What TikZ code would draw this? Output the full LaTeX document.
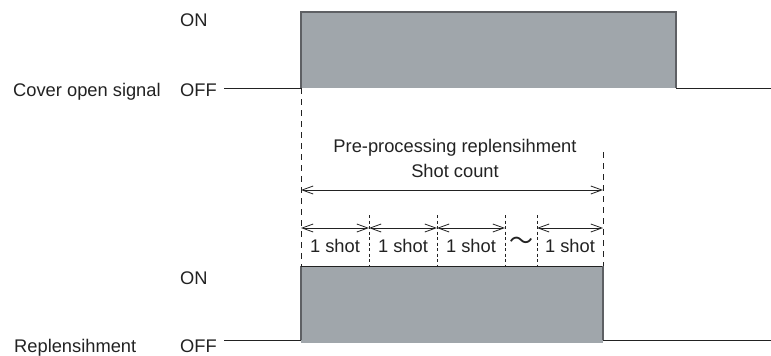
\documentclass[tikz,border=0pt]{standalone}
\usepackage{fontspec}
\setmainfont{Liberation Sans}
\newfontfamily\cjkjp{Noto Sans CJK JP}
\usetikzlibrary{arrows.meta}
\definecolor{sigfill}{HTML}{A0A6AB}
\definecolor{sigedge}{HTML}{5E6064}
\definecolor{ink}{HTML}{222222}
\tikzset{
  lbl/.style={font=\fontsize{18.3}{20}\selectfont, text=ink, inner sep=0pt},
  sigline/.style={draw=ink, line width=0.9pt},
  boxedge/.style={draw=sigedge, line width=1.3pt},
  bigdash/.style={draw=ink, line width=0.8pt, dash pattern=on 6pt off 5pt},
  smalldash/.style={draw=ink, line width=0.7pt, dash pattern=on 3pt off 2.5pt},
  dimarrow/.style={draw=ink, line width=0.8pt,
    {Straight Barb[length=11pt,width=8pt]}-{Straight Barb[length=11pt,width=8pt]}},
}
\begin{document}
\begin{tikzpicture}[x=1pt,y=-1pt]
\useasboundingbox (0,0) rectangle (771,356);

% ---------- top signal ----------
\coordinate (t0) at (224,88);
\coordinate (t1) at (301,88);
\coordinate (t2) at (301,12);
\coordinate (t3) at (676,12);
\coordinate (t4) at (676,88);
\coordinate (t5) at (771,88);
\fill[sigfill] (t2) rectangle (t4);
\draw[sigline] (t0) -- (t1);
\draw[boxedge] (t1) -- (t2) -- (t3) -- (t4);
\draw[sigline] (t4) -- (t5);

% ---------- bottom signal ----------
\coordinate (b0) at (224,340);
\coordinate (b1) at (301,340);
\coordinate (b2) at (301,266);
\coordinate (b3) at (603,266);
\coordinate (b4) at (603,340);
\coordinate (b5) at (771,340);
\fill[sigfill] (301,266) rectangle (603,343);
\draw[sigline] (b0) -- (b1);
\draw[boxedge] (b1) -- (b2);
\draw[sigline] (b2) -- (b3);
\draw[boxedge] (b3) -- (b4);
\draw[sigline] (b4) -- (b5);

% ---------- labels ----------
\node[lbl, anchor=base west] (on1) at (180,27) {ON};
\node[lbl, anchor=base west] (off1) at (180,96) {OFF};
\node[lbl, anchor=base west] (cov) at (13,96) {Cover open signal};
\node[lbl, anchor=base west] (on2) at (180,284) {ON};
\node[lbl, anchor=base west] (off2) at (180,352) {OFF};
\node[lbl, anchor=base west] (rep) at (14,352) {Replensihment};

% ---------- dashed guides ----------
\coordinate (r0) at (603,152);
\draw[bigdash] (t1) -- (b2);
\draw[bigdash] (r0) -- (b3);

\foreach \x/\n in {369/1,437/2,505/3,537/4}{
  \coordinate (dv\n top) at (\x,215);
  \coordinate (dv\n bot) at (\x,266);
  \draw[smalldash] (dv\n top) -- (dv\n bot);
}

% ---------- shot count arrow ----------
\node[lbl, anchor=base] (pre) at (455,152) {Pre-processing replensihment};
\node[lbl, anchor=base] (sc) at (455,177) {Shot count};
\coordinate (d0) at (301,190);
\coordinate (d1) at (603,190);
\draw[dimarrow] (d0) -- (d1);

% ---------- single shots ----------
\coordinate (s0) at (301,228);
\coordinate (s1) at (369,228);
\coordinate (s2) at (437,228);
\coordinate (s3) at (505,228);
\coordinate (s4) at (537,228);
\coordinate (s5) at (603,228);
\draw[dimarrow] (s0) -- (s1);
\draw[dimarrow] (s1) -- (s2);
\draw[dimarrow] (s2) -- (s3);
\draw[dimarrow] (s4) -- (s5);

\node[lbl, anchor=base] (sh1) at (335,252) {1 shot};
\node[lbl, anchor=base] (sh2) at (403,252) {1 shot};
\node[lbl, anchor=base] (sh3) at (471,252) {1 shot};
\node[lbl, anchor=base] (sh4) at (570,252) {1 shot};
\node[lbl, font=\cjkjp\fontsize{24}{24}\selectfont] (tl) at (521,243) {〜};
\end{tikzpicture}
\end{document}
